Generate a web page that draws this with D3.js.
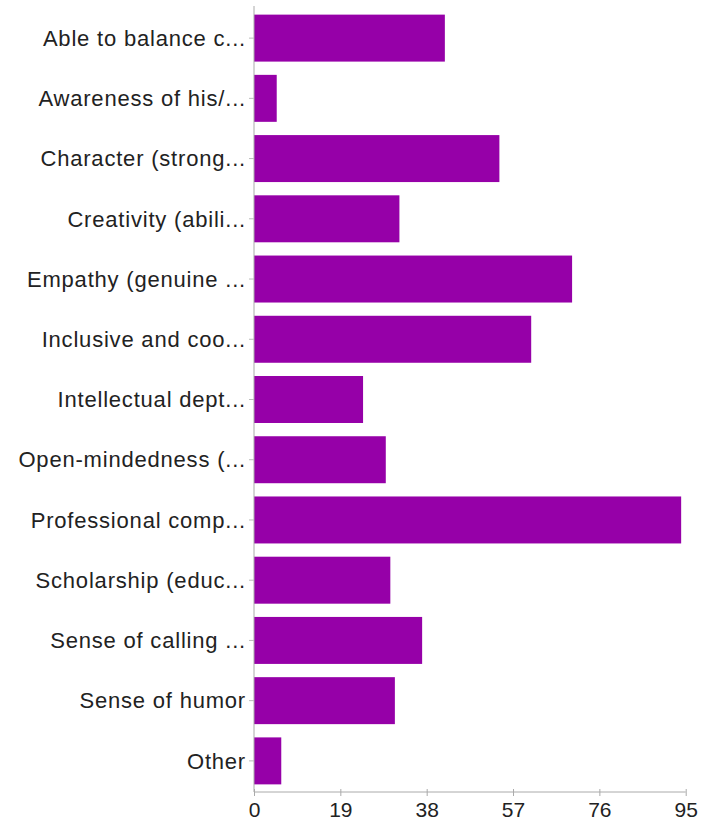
<!DOCTYPE html>
<html>
<head>
<meta charset="utf-8">
<script src="https://cdn.jsdelivr.net/npm/d3@7"></script>
<style>
  html, body { margin: 0; padding: 0; background: #fff; }
  svg { display: block; }
</style>
</head>
<body>
<svg id="chart" width="702" height="824"></svg>
<script>
const categories = [
  "Able to balance c...",
  "Awareness of his/...",
  "Character (strong...",
  "Creativity (abili...",
  "Empathy (genuine ...",
  "Inclusive and coo...",
  "Intellectual dept...",
  "Open-mindedness (...",
  "Professional comp...",
  "Scholarship (educ...",
  "Sense of calling ...",
  "Sense of humor",
  "Other"
];
const values = [42, 5, 54, 32, 70, 61, 24, 29, 94, 30, 37, 31, 6];
const tickValues = [0, 19, 38, 57, 76, 95];

(function () {
const svg = d3.select("#chart");
const mLeft = 254, mRight = 685.7, mTop = 8, mBottom = 791, axisY = 792;
const font = "'Liberation Sans', Arial, Helvetica, sans-serif";

const x = d3.scaleLinear().domain([0, 95]).range([mLeft, mRight]);
const y = d3.scaleBand().domain(categories).range([mTop, mBottom]).paddingInner(0.22).paddingOuter(0.11);

svg.append("g").selectAll("rect")
  .data(categories)
  .join("rect")
  .attr("x", x(0))
  .attr("y", d => y(d))
  .attr("width", (d, i) => x(values[i]) - x(0))
  .attr("height", y.bandwidth())
  .attr("fill", "#9600a8");

// Y axis
const yAxis = svg.append("g")
  .attr("transform", `translate(${mLeft},0)`)
  .call(d3.axisLeft(y).tickSize(5).tickPadding(3));
yAxis.select(".domain").attr("stroke", "#aaa").attr("d", `M0,${mTop - 2}V${axisY}`);
yAxis.selectAll(".tick line").attr("stroke", "#bbb");
yAxis.selectAll(".tick text")
  .attr("font-family", font)
  .attr("font-size", 22)
  .attr("letter-spacing", "0.8px")
  .attr("dy", "0.35em")
  .attr("fill", "#222");

// X axis
const xAxis = svg.append("g")
  .attr("transform", `translate(0,${axisY})`)
  .call(d3.axisBottom(x).tickValues(tickValues).tickFormat(d3.format("d")).tickSize(5).tickPadding(5));
xAxis.select(".domain").attr("stroke", "#aaa").attr("d", `M${mLeft},0H${mRight}`);
xAxis.selectAll(".tick line").attr("stroke", "#aaa").attr("y1", -3).attr("y2", 4);
xAxis.selectAll(".tick text")
  .attr("font-family", font)
  .attr("font-size", 21)
  .attr("fill", "#222");
})();
</script>
</body>
</html>
